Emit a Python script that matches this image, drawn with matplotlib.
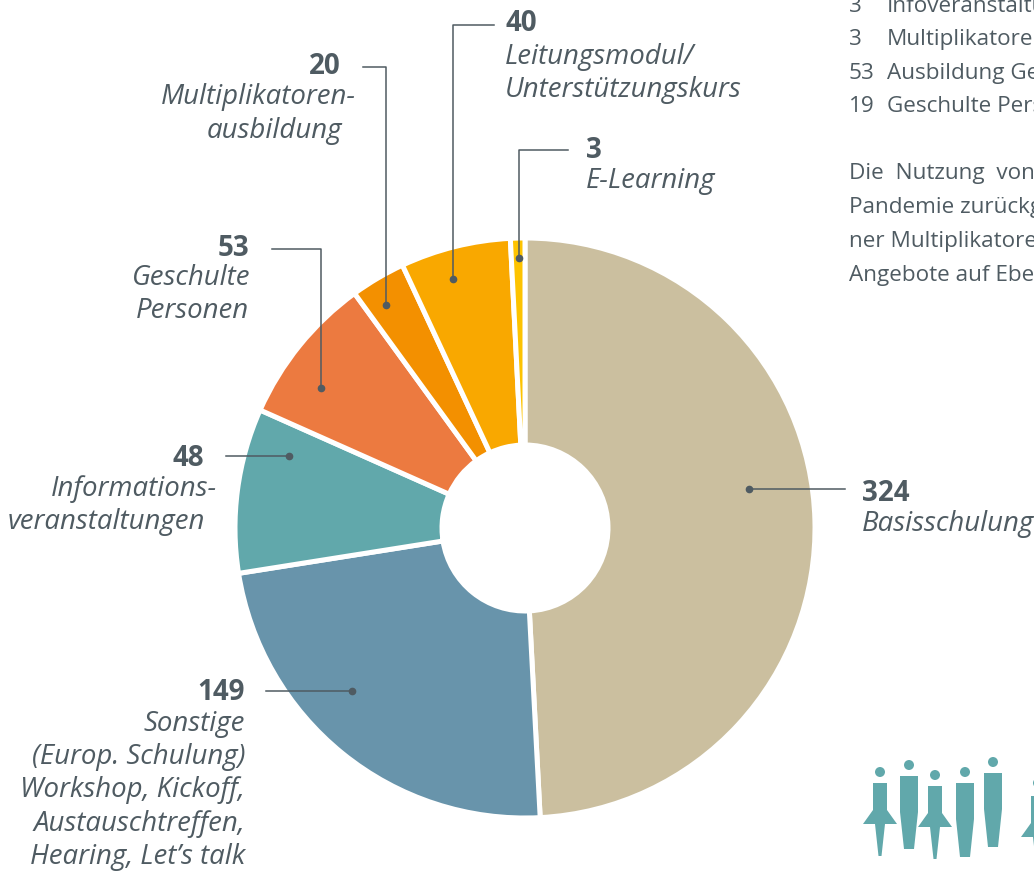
import matplotlib
matplotlib.use('Agg')
import matplotlib.pyplot as plt
from matplotlib.patches import Circle, Polygon

# data
categories = ['Basisschulung', 'Sonstige', 'Informationsveranstaltungen', 'Geschulte Personen',
              'Multiplikatorenausbildung', 'Leitungsmodul', 'E-Learning']
values = [324, 149, 48, 53, 20, 40, 3]
# slice sizes in degrees as measured in the picture (not quite proportional to the labels)
slice_degrees = [177, 84, 33, 30, 11, 22.1, 2.9]
colors = ['#cbbf9f', '#6894ab', '#61a8ab', '#ec7a40', '#f39000', '#f9a800', '#fdc300']

side_numbers = ['3', '3', '53', '19']
side_items = ['Infoveranstaltungen', 'Multiplikatorenausbildung', 'Ausbildung Geschulte', 'Geschulte Personen']
side_text = ['Die  Nutzung  von', 'Pandemie zurückgegangen', 'ner Multiplikatorenausbildung', 'Angebote auf Ebene']

GREY = '#4f5b62'
FONT = 'Open Sans'
W, H = 1034, 871


def Y(y):
    return H - y


fig = plt.figure(figsize=(W / 100, H / 100), dpi=100)
ax = fig.add_axes([0, 0, 1, 1])

ax.pie(slice_degrees, colors=colors, startangle=90, counterclock=False, center=(525, Y(528)),
       radius=290, frame=True, normalize=True,
       wedgeprops=dict(width=207, edgecolor='white', linewidth=3.6))
ax.set_xlim(0, W)
ax.set_ylim(0, H)
ax.set_aspect('auto')
ax.axis('off')

# leader lines: list of points from the dot outwards
leaders = [
    [(749, 489), (845, 489)],
    [(352, 691), (266, 691)],
    [(289, 456), (226, 456)],
    [(321, 388), (321, 249), (272, 249)],
    [(386, 305), (386, 67), (363, 67)],
    [(453, 279), (453, 25), (494, 25)],
    [(519, 258), (519, 150), (568, 150)],
]
for pts in leaders:
    ax.plot([p[0] for p in pts], [Y(p[1]) for p in pts], color=GREY, lw=1.1, zorder=5)
    ax.plot(pts[0][0], Y(pts[0][1]), 'o', color=GREY, ms=4.5, zorder=6)


def num(x, y, i, ha):
    ax.text(x, Y(y + 3), str(values[i]), fontsize=20, fontweight='bold', color=GREY, ha=ha, va='center',
            family=FONT)


def lab(x, y, s, ha):
    ax.text(x, Y(y + 3), s, fontsize=19.9, style='italic', color=GREY, ha=ha, va='center', family=FONT)


num(862, 490, 0, 'left')
lab(862, 521, 'Basisschulung', 'left')

num(245, 689, 1, 'right')
lab(245, 721, 'Sonstige', 'right')
lab(245, 754, '(Europ. Schulung)', 'right')
lab(245, 787, 'Workshop, Kickoff,', 'right')
lab(245, 821, 'Austauschtreffen,', 'right')
lab(245, 854, 'Hearing, Let’s talk', 'right')

num(204, 455, 2, 'right')
lab(217, 486, 'Informations-', 'right')
lab(205, 519, 'veranstaltungen', 'right')

num(249, 245, 3, 'right')
lab(250, 275, 'Geschulte', 'right')
lab(249, 308, 'Personen', 'right')

num(341, 64, 4, 'right')
lab(356, 94, 'Multiplikatoren-', 'right')
lab(342, 128, 'ausbildung', 'right')

num(505, 21, 5, 'left')
lab(505, 54, 'Leitungsmodul/', 'left')
lab(505, 87, 'Unterstützungskurs', 'left')

num(586, 147, 6, 'left')
lab(586, 178, 'E-Learning', 'left')

# cut-off body text at the right edge
for y, n, t in zip([7, 40, 74, 107], side_numbers, side_items):
    ax.text(849, Y(y), n, fontsize=16.2, color=GREY, va='center', family=FONT)
    ax.text(887, Y(y), t, fontsize=16.2, color=GREY, va='center', family=FONT)
for y, t in zip([174, 208, 241, 275], side_text):
    ax.text(849, Y(y), t, fontsize=16.2, color=GREY, va='center', family=FONT)

# little people, pixel coordinates of the icon
TEAL = '#61a8ab'


def skirt(cx, head_y, top):
    ax.add_patch(Circle((cx, Y(head_y)), 5, color=TEAL, lw=0))
    pts = [(cx - 7, top), (cx + 7, top), (cx + 7, top + 27), (cx + 17, top + 41), (cx + 5, top + 41),
           (cx + 1.5, top + 73), (cx - 1.5, top + 73), (cx - 5, top + 41), (cx - 17, top + 41), (cx - 7, top + 27)]
    ax.add_patch(Polygon([(x, Y(y)) for x, y in pts], color=TEAL, lw=0))


def trousers(cx, head_y, top, waist, bottom):
    ax.add_patch(Circle((cx, Y(head_y)), 5, color=TEAL, lw=0))
    pts = [(cx - 9, top), (cx + 9, top), (cx + 9, waist), (cx + 5, bottom), (cx - 5, bottom), (cx - 9, waist)]
    ax.add_patch(Polygon([(x, Y(y)) for x, y in pts], color=TEAL, lw=0))


skirt(880, 772, 783)
trousers(909, 765, 776, 812, 849)
skirt(935, 775, 786)
trousers(965, 772, 783, 819, 857)
trousers(993, 762, 773, 809, 847)
skirt(1038, 783, 796)

fig.savefig('out.png', dpi=100)
